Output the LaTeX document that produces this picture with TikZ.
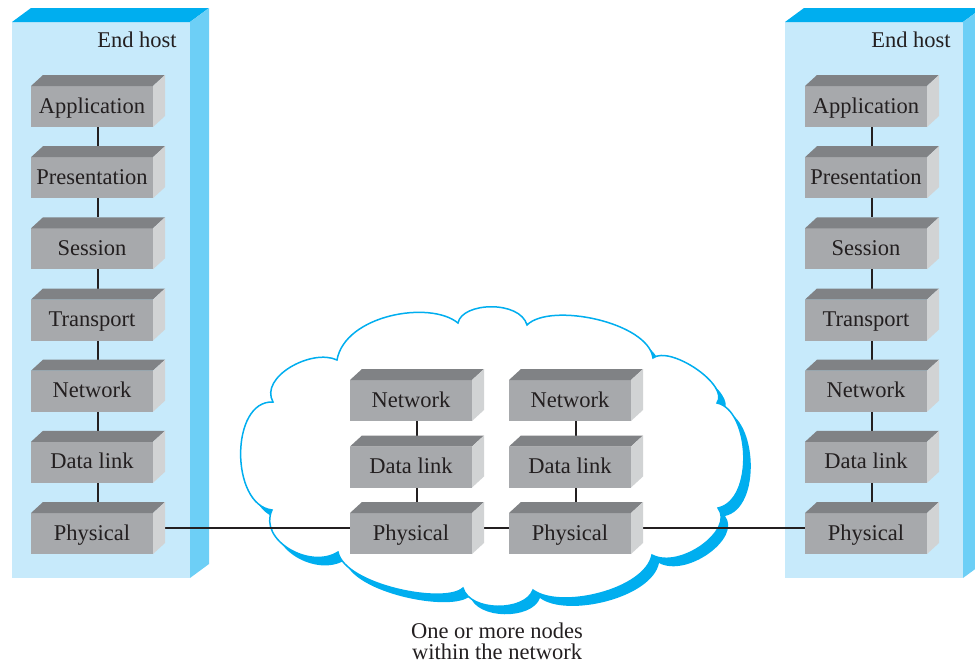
\documentclass[tikz,border=0pt]{standalone}
\usepackage{fontspec}
\setmainfont{Liberation Serif}
\usetikzlibrary{calc}
\definecolor{hostfront}{HTML}{C7EAFB}
\definecolor{hosttop}{HTML}{00AEEF}
\definecolor{hostside}{HTML}{6DCFF6}
\definecolor{boxfront}{HTML}{A7A9AC}
\definecolor{boxtop}{HTML}{808285}
\definecolor{boxside}{HTML}{D1D3D4}
\definecolor{cloudblue}{HTML}{00AEEF}
\definecolor{ink}{HTML}{231F20}
\tikzset{
  layerbox/.style={rectangle, minimum width=134pt, minimum height=52pt, inner sep=0pt, outer sep=0pt},
  link/.style={draw=ink, line width=1.4pt},
  lbl/.style={font=\fontsize{22.5}{26}\selectfont, text=ink, inner sep=0pt},
  caplbl/.style={lbl, anchor=base, text height=15pt, text depth=5pt},
}
\newcommand{\drawlayer}[2]{%
  \fill[boxfront] (#1.south west) rectangle ([xshift=-12pt,yshift=-11pt]#1.north east);
  \fill[boxtop] ([yshift=-11pt]#1.north west) -- ([xshift=12pt]#1.north west) -- (#1.north east) -- ([xshift=-12pt,yshift=-11pt]#1.north east) -- cycle;
  \fill[boxside] ([xshift=-12pt,yshift=-11pt]#1.north east) -- (#1.north east) -- ([yshift=11pt]#1.south east) -- ([xshift=-12pt]#1.south east) -- cycle;
  \node[lbl, anchor=base] (#1-t) at ([xshift=61pt,yshift=-38pt]#1.north west) {#2};
}
\begin{document}
\begin{tikzpicture}[x=1pt,y=-1pt]
\useasboundingbox (0,0) rectangle (975,665);
% end hosts
\fill[hostfront] (12,22) rectangle (190,578);
\fill[hosttop] (12,22) -- (31,8) -- (209,8) -- (190,22) -- cycle;
\fill[hostside] (190,22) -- (209,8) -- (209,564) -- (190,578) -- cycle;
\fill[hostfront] (785,22) rectangle (963,578);
\fill[hosttop] (785,22) -- (804,8) -- (982,8) -- (963,22) -- cycle;
\fill[hostside] (963,22) -- (982,8) -- (982,564) -- (963,578) -- cycle;
\node[lbl] (eh1) at (137,40) {End host};
\node[lbl] (eh2) at (911,40) {End host};
% cloud
\def\cloudpath{(273,402) .. controls (259,377) and (312,348) .. (337,360)
 .. controls (345,315) and (430,300) .. (458,323)
 .. controls (462,302) and (520,300) .. (527,325)
 .. controls (550,302) and (648,322) .. (653,358)
 .. controls (670,345) and (730,385) .. (717,403)
 .. controls (750,410) and (755,500) .. (718,508)
 .. controls (735,530) and (680,570) .. (652,555)
 .. controls (645,590) and (560,610) .. (533,590)
 .. controls (525,612) and (470,612) .. (463,588)
 .. controls (445,605) and (345,585) .. (338,552)
 .. controls (310,570) and (258,540) .. (272,510)
 .. controls (230,505) and (230,400) .. (273,402) -- cycle}
\fill[cloudblue, shift={(7,8)}] \cloudpath;
\filldraw[fill=white, draw=cloudblue, line width=1.5pt] \cloudpath;
% layer anchors
\foreach \n/\y in {A/101,P/172.2,S/243.3,T/314.5,N/385.7,D/456.8,Ph/528}{
  \node[layerbox] (l\n) at (98,\y) {};
  \node[layerbox] (r\n) at (872,\y) {};
}
\node[layerbox] (aN) at (417,395) {};
\node[layerbox] (aD) at (417,461.5) {};
\node[layerbox] (aPh) at (417,528) {};
\node[layerbox] (bN) at (576,395) {};
\node[layerbox] (bD) at (576,461.5) {};
\node[layerbox] (bPh) at (576,528) {};
% connectors
\draw[link] (lA) -- (lP) -- (lS) -- (lT) -- (lN) -- (lD) -- (lPh);
\draw[link] (rA) -- (rP) -- (rS) -- (rT) -- (rN) -- (rD) -- (rPh);
\draw[link] (aN) -- (aD) -- (aPh);
\draw[link] (bN) -- (bD) -- (bPh);
\draw[link] (lPh) -- (aPh);
\draw[link] (aPh) -- (bPh);
\draw[link] (bPh) -- (rPh);
% boxes
\foreach \s in {l,r}{
  \drawlayer{\s A}{Application}
  \drawlayer{\s P}{Presentation}
  \drawlayer{\s S}{Session}
  \drawlayer{\s T}{Transport}
  \drawlayer{\s N}{Network}
  \drawlayer{\s D}{Data link}
  \drawlayer{\s Ph}{Physical}
}
\drawlayer{aN}{Network}
\drawlayer{aD}{Data link}
\drawlayer{aPh}{Physical}
\drawlayer{bN}{Network}
\drawlayer{bD}{Data link}
\drawlayer{bPh}{Physical}
\node[caplbl] (cap1) at (497,638) {One or more nodes};
\node[caplbl] (cap2) at (497,659) {within the network};
\end{tikzpicture}
\end{document}
